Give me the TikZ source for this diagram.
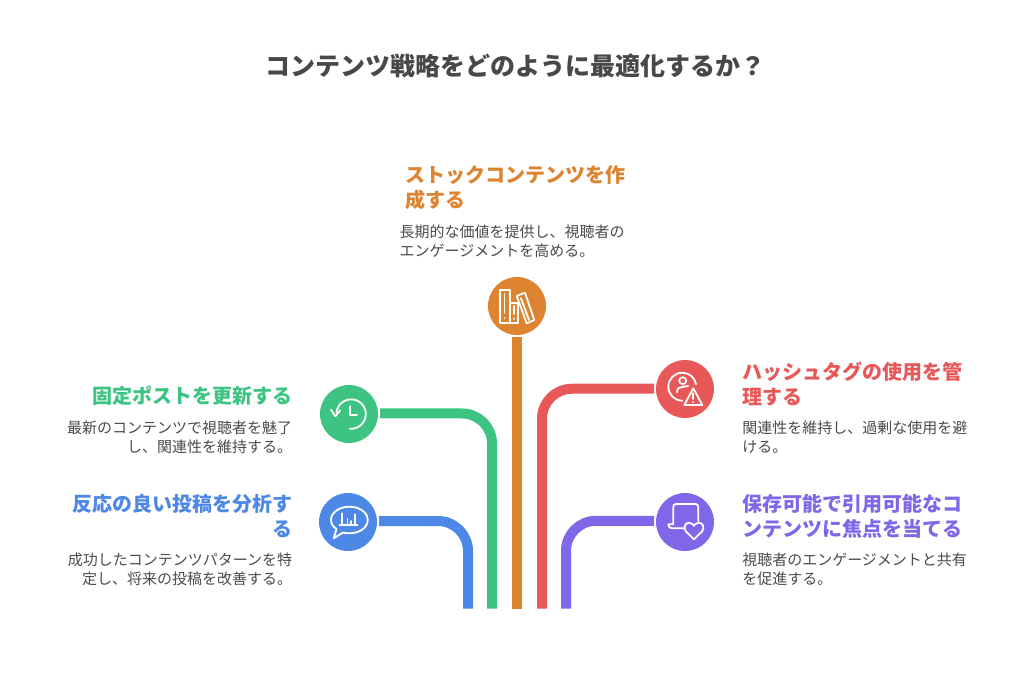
\documentclass[tikz,border=0pt]{standalone}
\usepackage{fontspec}
\setmainfont{Noto Sans CJK JP}
\definecolor{cblue}{HTML}{4E88E7}
\definecolor{cgreen}{HTML}{3DC483}
\definecolor{corange}{HTML}{DE8431}
\definecolor{cred}{HTML}{E85858}
\definecolor{cpurple}{HTML}{8066E8}
\definecolor{ctitle}{HTML}{484848}
\definecolor{cdesc}{HTML}{4D4A4A}
\tikzset{
  pic/.style={circle,fill=#1,minimum size=43.5pt,inner sep=0pt,outer sep=1.5pt},
  conn/.style={line width=7.5pt,rounded corners=22.5pt,#1},
  ico/.style={draw=white,line width=1.35pt,line cap=round,line join=round},
  ttl/.style={inner sep=0pt,font=\fontsize{18.75}{24}\bfseries,text=ctitle},
  headl/.style={inner sep=0pt,anchor=north west,align=left,text=#1,font=\fontsize{15}{18.75}\bfseries},
  headr/.style={inner sep=0pt,anchor=north east,align=right,text=#1,font=\fontsize{15}{18.75}\bfseries},
  descl/.style={inner sep=0pt,anchor=north west,align=left,text=cdesc,font=\fontsize{11.25}{13.9}\selectfont},
  descr/.style={inner sep=0pt,anchor=north east,align=right,text=cdesc,font=\fontsize{11.25}{13.9}\selectfont},
}
\begin{document}
\begin{tikzpicture}[x=0.75pt,y=-0.75pt]
\useasboundingbox (0,0) rectangle (1034,692);
\fill[white] (0,0) rectangle (1034,692);
\node[ttl] (title) at (515.7,65.5) {コンテンツ戦略をどのように最適化するか？};

\node[pic=corange] (pO) at (517,306) {};
\node[pic=cred] (pR) at (685,389) {};
\node[pic=cpurple] (pP) at (685,522) {};
\node[pic=cgreen] (pG) at (349,414) {};
\node[pic=cblue] (pB) at (348,522) {};
\coordinate (eB) at (468,608.7);
\coordinate (eG) at (492,608.7);
\coordinate (eO) at (517,608.7);
\coordinate (eR) at (542,608.7);
\coordinate (eP) at (566,608.7);
\draw[conn=corange] (pO) -- (eO);
\draw[conn=cred] ([yshift=0.2pt]pR.west) -| (eR);
\draw[conn=cpurple] ([yshift=0.9pt]pP.west) -| (eP);
\draw[conn=cgreen] ([yshift=0.4pt]pG.east) -| (eG);
\draw[conn=cblue] ([yshift=0.75pt]pB.east) -| (eB);

% orange icon: books
\begin{scope}[shift={(517,306)},ico]
 \draw (-17,-16) rectangle (-7,16.7);
 \draw (-7,-3.3) -- (1.3,-3.3) -- (1.3,16.7) -- (-7,16.7);
 \draw (-12.5,-12) -- (-12.5,7) (-12.5,12) -- (-12.5,12.5);
 \draw (-3,0) -- (-3,8) (-3,12.5) -- (-3,13);
 \draw (-0.3,-10) -- (8,-13.3) -- (17.3,14) -- (9.7,17.3) -- cycle;
 \draw (4,-7.7) -- (12,14);
\end{scope}
% red icon: user + warning
\begin{scope}[shift={(685,389)},ico]
 \draw (-2.7,11.7) arc[start angle=90,end angle=350,radius=14];
 \draw (-2.3,-8.3) circle[radius=3.5];
 \draw (-8,3.3) .. controls (-8,-0.5) and (-6,-2) .. (-3,-2) -- (3.3,-3);
 \draw (8.3,-0.7) -- (17.3,16) -- (-0.7,16) -- cycle;
 \draw (8.3,4.3) -- (8.3,10) (8.3,13) -- (8.3,13.3);
\end{scope}
% purple icon: laptop + heart
\begin{scope}[shift={(685,522)},ico]
 \draw (-11.7,1.3) -- (-11.7,-15) .. controls (-11.7,-17) and (-10.5,-18) .. (-9,-18) -- (10.5,-18) .. controls (12,-18) and (13.3,-17) .. (13.3,-15) -- (13.3,-1);
 \draw (-11.7,2.3) -- (-16.7,2.3) .. controls (-16.7,5) and (-15,6.3) .. (-13,6.3) -- (-0.7,6.3);
 \draw (9,17.3) -- (1,9.5) .. controls (-2,6) and (0,0.7) .. (4,0.7) .. controls (6.5,0.7) and (8,2.5) .. (9,3.7) .. controls (10,2.5) and (11.5,0.7) .. (14,0.7) .. controls (18,0.7) and (20,6) .. (17,9.5) -- cycle;
\end{scope}
% green icon: history
\begin{scope}[shift={(349,414)},ico]
 \draw (-12.5,-1.5) arc[start angle=186,end angle=455,radius=14.7];
 \draw (-18,-4.3) -- (-13.7,2.3) -- (-8.7,-3.7);
 \draw (0.7,-7.7) -- (0.7,0.7) -- (8,0.7);
\end{scope}
% blue icon: chat + bars
\begin{scope}[shift={(348,522)},ico]
 \draw (-11.5,7) .. controls (-15.5,4.5) and (-17,1) .. (-17,-2) .. controls (-17,-10) and (-8,-15.3) .. (1.3,-15.3) .. controls (11,-15.3) and (19.7,-10) .. (19.7,-2) .. controls (19.7,6) and (11,11.3) .. (1.3,11.3) .. controls (-1,11.3) and (-3,11) .. (-5,10.5) -- (-14.3,16.3) -- cycle;
 \draw (-8.5,3) -- (9.5,3);
 \draw (-6,3) -- (-6,-8.7) (-0.5,3) -- (-0.5,-3) (3,3) -- (3,-1) (6.7,3) -- (6.7,-7.7);
\end{scope}

\node[headl=corange] (hO) at (405,165.5) {ストックコンテンツを作\\成する};
\node[descl] (dO) at (399.3,225) {長期的な価値を提供し、視聴者の\\エンゲージメントを高める。};
\node[headl=cred] (hR) at (742,362) {ハッシュタグの使用を管\\理する};
\node[descl] (dR) at (742,421) {関連性を維持し、過剰な使用を避\\ける。};
\node[headl=cpurple] (hP) at (742,494) {保存可能で引用可能なコ\\ンテンツに焦点を当てる};
\node[descl] (dP) at (742,553) {視聴者のエンゲージメントと共有\\を促進する。};
\node[headr=cgreen] (hG) at (292.5,386) {固定ポストを更新する};
\node[descr] (dG) at (292.5,421) {最新のコンテンツで視聴者を魅了\\し、関連性を維持する。};
\node[headr=cblue] (hB) at (293,494) {反応の良い投稿を分析す\\る};
\node[descr] (dB) at (292.5,553) {成功したコンテンツパターンを特\\定し、将来の投稿を改善する。};
\end{tikzpicture}
\end{document}
